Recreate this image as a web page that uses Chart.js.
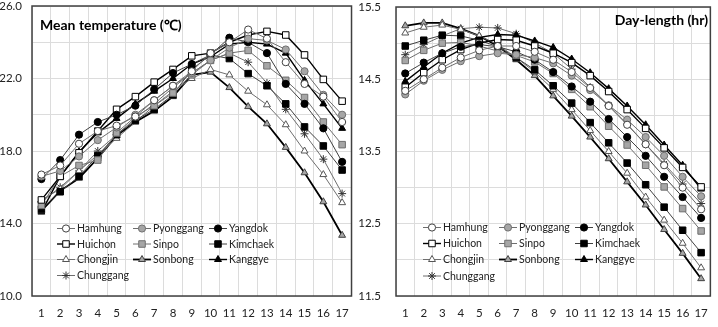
<!DOCTYPE html>
<html>
<head>
<meta charset="utf-8">
<script src="https://cdn.jsdelivr.net/npm/chart.js@4.4.0/dist/chart.umd.min.js"></script>
<style>
  html, body { margin: 0; padding: 0; background: #fff; }
  #wrap { position: relative; width: 718px; height: 327px; }
  .panel { position: absolute; top: 0; width: 359px; height: 327px; }
</style>
</head>
<body>
<div id="wrap">
  <div class="panel" style="left:0"><canvas id="graficoTemp"></canvas></div>
  <div class="panel" style="left:359px"><canvas id="graficoDia"></canvas></div>
</div>
<script>
// DATOS
const semanas = ['1','2','3','4','5','6','7','8','9','10','11','12','13','14','15','16','17'];
const estaciones = ['Hamhung','Pyonggang','Yangdok','Huichon','Sinpo','Kimchaek','Chongjin','Sonbong','Kanggye','Chunggang'];

// temperatura media (°C)
const tempHamhung   = [16.7, 17.2, 18.4, 19.1, 19.4, 19.9, 20.8, 21.6, 22.4, 23.4, 24.0, 24.7, 24.2, 22.9, 21.7, 21.0, 19.6];
const tempPyonggang = [16.6, 16.9, 17.7, 18.6, 19.3, 20.0, 20.8, 21.6, 22.3, 23.0, 23.7, 24.2, 24.1, 23.6, 22.4, 21.1, 20.0];
const tempYangdok   = [16.45, 17.5, 18.9, 19.6, 20.0, 20.5, 21.4, 22.3, 22.8, 23.3, 24.25, 24.0, 23.4, 21.7, 20.6, 19.25, 17.4];
const tempHuichon   = [15.3, 16.6, 17.9, 19.1, 20.3, 21.0, 21.8, 22.5, 23.25, 23.4, 24.0, 24.4, 24.6, 24.4, 23.3, 21.95, 20.75];
const tempSinpo     = [15.0, 16.6, 17.2, 17.5, 19.0, 19.9, 20.5, 21.2, 22.2, 23.0, 23.4, 23.55, 22.7, 21.9, 20.95, 19.6, 18.35];
const tempKimchaek  = [14.8, 15.75, 16.6, 17.75, 18.9, 19.7, 20.3, 21.1, 22.5, 23.3, 23.1, 22.27, 21.6, 20.6, 19.33, 18.28, 16.95];
const tempChongjin  = [15.3, 15.9, 16.9, 17.8, 18.7, 19.6, 20.5, 21.3, 22.0, 22.5, 22.2, 21.3, 20.55, 19.45, 18.0, 16.7, 15.15];
const tempSonbong   = [14.7, 15.8, 16.5, 17.6, 18.85, 19.6, 20.2, 21.0, 22.2, 22.35, 21.5, 20.45, 19.5, 18.2, 16.8, 15.2, 13.35];
const tempKanggye   = [14.63, 16.6, 17.95, 19.0, 19.8, 20.6, 21.3, 22.0, 22.8, 23.2, 23.9, 24.0, 23.9, 23.4, 21.9, 20.6, 19.25];
const tempChunggang = [15.2, 16.0, 16.9, 18.0, 18.9, 19.8, 20.6, 21.5, 22.3, 23.0, 23.4, 22.9, 21.75, 20.3, 18.95, 17.55, 15.65];

// duración del día (hr)
const diaHamhung   = [14.34, 14.5, 14.66, 14.8, 14.9, 14.96, 14.96, 14.88, 14.77, 14.6, 14.38, 14.13, 13.87, 13.6, 13.31, 13.0, 12.7];
const diaPyonggang = [14.29, 14.48, 14.63, 14.75, 14.82, 14.86, 14.84, 14.8, 14.72, 14.55, 14.35, 14.14, 13.94, 13.7, 13.44, 13.15, 12.88];
const diaYangdok   = [14.58, 14.73, 14.86, 14.95, 14.98, 14.95, 14.88, 14.77, 14.6, 14.4, 14.19, 13.95, 13.7, 13.44, 13.15, 12.87, 12.58];
const diaHuichon   = [14.39, 14.59, 14.77, 14.91, 15.0, 15.05, 15.04, 14.96, 14.86, 14.73, 14.55, 14.33, 14.08, 13.82, 13.55, 13.28, 13.01];
const diaSinpo     = [14.76, 14.9, 15.0, 15.01, 14.96, 14.89, 14.83, 14.74, 14.58, 14.36, 14.12, 13.85, 13.59, 13.31, 13.01, 12.71, 12.4];
const diaKimchaek  = [14.96, 15.04, 15.11, 15.1, 15.04, 14.95, 14.8, 14.63, 14.41, 14.17, 13.9, 13.62, 13.34, 13.04, 12.73, 12.41, 12.1];
const diaChongjin  = [15.14, 15.22, 15.25, 15.19, 15.1, 14.98, 14.8, 14.6, 14.36, 14.08, 13.79, 13.5, 13.2, 12.87, 12.55, 12.23, 11.89];
const diaSonbong   = [15.24, 15.28, 15.28, 15.2, 15.1, 14.96, 14.77, 14.55, 14.27, 13.99, 13.7, 13.4, 13.08, 12.76, 12.42, 12.09, 11.74];
const diaKanggye   = [14.47, 14.67, 14.86, 15.0, 15.08, 15.12, 15.11, 15.03, 14.94, 14.78, 14.59, 14.37, 14.13, 13.87, 13.59, 13.31, 12.98];
const diaChunggang = [14.84, 14.98, 15.1, 15.2, 15.22, 15.21, 15.13, 15.0, 14.86, 14.64, 14.39, 14.14, 13.88, 13.6, 13.33, 13.05, 12.78];

const serieTemp = [tempHamhung, tempPyonggang, tempYangdok, tempHuichon, tempSinpo, tempKimchaek, tempChongjin, tempSonbong, tempKanggye, tempChunggang];
const serieDia  = [diaHamhung, diaPyonggang, diaYangdok, diaHuichon, diaSinpo, diaKimchaek, diaChongjin, diaSonbong, diaKanggye, diaChunggang];

// ESTILOS DE CADA ESTACIÓN
const estilos = [
  { forma: 'circle',   fondo: '#ffffff', borde: '#404040', linea: '#6e6e6e', ancho: 1,   radio: 3.6 },
  { forma: 'circle',   fondo: '#a6a6a6', borde: '#6e6e6e', linea: '#6e6e6e', ancho: 1,   radio: 3.6 },
  { forma: 'circle',   fondo: '#000000', borde: '#000000', linea: '#404040', ancho: 1,   radio: 3.6 },
  { forma: 'rect',     fondo: '#ffffff', borde: '#000000', linea: '#000000', ancho: 1.4, radio: 4.6 },
  { forma: 'rect',     fondo: '#a6a6a6', borde: '#6e6e6e', linea: '#6e6e6e', ancho: 1,   radio: 4.6 },
  { forma: 'rect',     fondo: '#000000', borde: '#000000', linea: '#404040', ancho: 1,   radio: 4.6 },
  { forma: 'triangle', fondo: '#ffffff', borde: '#555555', linea: '#6e6e6e', ancho: 1,   radio: 4 },
  { forma: 'triangle', fondo: '#a6a6a6', borde: '#404040', linea: '#000000', ancho: 1.8, radio: 4 },
  { forma: 'triangle', fondo: '#000000', borde: '#000000', linea: '#000000', ancho: 1.4, radio: 4 },
  { forma: 'star',     fondo: '#ffffff', borde: '#333333', linea: '#6e6e6e', ancho: 1,   radio: 4 }
];

Chart.defaults.font.family = 'Lato, "Open Sans", sans-serif';
Chart.defaults.color = '#222';

// borde del área, título y leyenda
const panelPlugin = {
  id: 'panel',
  afterDraw(chart, args, opts) {
    const { ctx, chartArea: a } = chart;
    ctx.save();
    ctx.strokeStyle = '#404040';
    ctx.lineWidth = 1.5;
    ctx.strokeRect(a.left, a.top, a.right - a.left, a.bottom - a.top);

    ctx.fillStyle = '#000';
    ctx.font = 'bold 14px Lato, "Open Sans", sans-serif';
    ctx.textAlign = opts.alineaTitulo;
    ctx.textBaseline = 'middle';
    ctx.fillText(opts.titulo, opts.tituloX, opts.tituloY);

    chart.data.datasets.forEach((ds, i) => {
      const x = opts.columnas[i % 3];
      const y = opts.filas[Math.floor(i / 3)];
      ctx.strokeStyle = ds.borderColor;
      ctx.lineWidth = ds.borderWidth;
      ctx.beginPath();
      ctx.moveTo(x - 9, y);
      ctx.lineTo(x + 9, y);
      ctx.stroke();
      ctx.fillStyle = ds.pointBackgroundColor;
      ctx.strokeStyle = ds.pointBorderColor;
      ctx.lineWidth = 1;
      Chart.helpers.drawPoint(ctx, { pointStyle: ds.pointStyle, radius: ds.pointRadius, borderWidth: 1, rotation: 0 }, x, y);
      ctx.fillStyle = '#222';
      ctx.font = '10.5px Lato, "Open Sans", sans-serif';
      ctx.textAlign = 'left';
      ctx.fillText(ds.label, x + 11, y + 0.5);
    });
    ctx.restore();
  }
};

function crearDatasets(series) {
  return estaciones.map((nombre, i) => ({
    label: nombre,
    data: series[i],
    borderColor: estilos[i].linea,
    borderWidth: estilos[i].ancho,
    pointStyle: estilos[i].forma,
    pointBackgroundColor: estilos[i].fondo,
    pointBorderColor: estilos[i].borde,
    pointBorderWidth: 1,
    pointRadius: estilos[i].radio,
    tension: 0,
    fill: false
  }));
}

function crearGrafico(id, series, cfg) {
  return new Chart(document.getElementById(id), {
    type: 'line',
    data: { labels: semanas, datasets: crearDatasets(series) },
    plugins: [panelPlugin],
    options: {
      responsive: true,
      maintainAspectRatio: false,
      animation: false,
      layout: { padding: { top: cfg.arriba, right: 7, left: 0, bottom: 0 } },
      plugins: {
        legend: { display: false },
        tooltip: { enabled: false },
        panel: cfg.panel
      },
      scales: {
        x: {
          offset: true,
          grid: { offset: true, color: '#dcdcdc', drawTicks: false },
          border: { display: false },
          ticks: { autoSkip: false, maxRotation: 0, padding: 10, color: '#222', font: { size: 11.5 } },
          afterFit: s => { s.height = 31; }
        },
        y: {
          min: cfg.min,
          max: cfg.max,
          grid: { color: '#dcdcdc', drawTicks: false },
          border: { display: false },
          ticks: {
            stepSize: cfg.paso,
            autoSkip: false,
            padding: cfg.relleno,
            color: '#222',
            font: { size: 11.5 },
            callback: cfg.etiqueta
          },
          afterFit: s => {
            s.width = cfg.anchoEje;
            s.paddingTop = 0;
            s.paddingBottom = 0;
          }
        }
      }
    }
  });
}

// GRÁFICO DE TEMPERATURA
crearGrafico('graficoTemp', serieTemp, {
  min: 10, max: 26, paso: 2, relleno: 10, anchoEje: 32, arriba: 6,
  etiqueta: v => (Math.abs((v - 10) % 4) < 1e-9 ? v.toFixed(1) : ''),
  panel: {
    titulo: 'Mean temperature (\u2103)', alineaTitulo: 'left', tituloX: 40, tituloY: 25,
    columnas: [66, 142, 218], filas: [228.5, 244, 259.5, 275.5]
  }
});

// GRÁFICO DE DURACIÓN DEL DÍA
crearGrafico('graficoDia', serieDia, {
  min: 11.5, max: 15.5, paso: 0.5, relleno: 15, anchoEje: 37, arriba: 7,
  etiqueta: v => (Math.abs((v - 11.5) % 1) < 1e-9 ? v.toFixed(1) : ''),
  panel: {
    titulo: 'Day-length (hr)', alineaTitulo: 'right', tituloX: 349, tituloY: 20,
    columnas: [73, 149, 225], filas: [227.5, 243.5, 259.5, 276]
  }
});
</script>
</body>
</html>
